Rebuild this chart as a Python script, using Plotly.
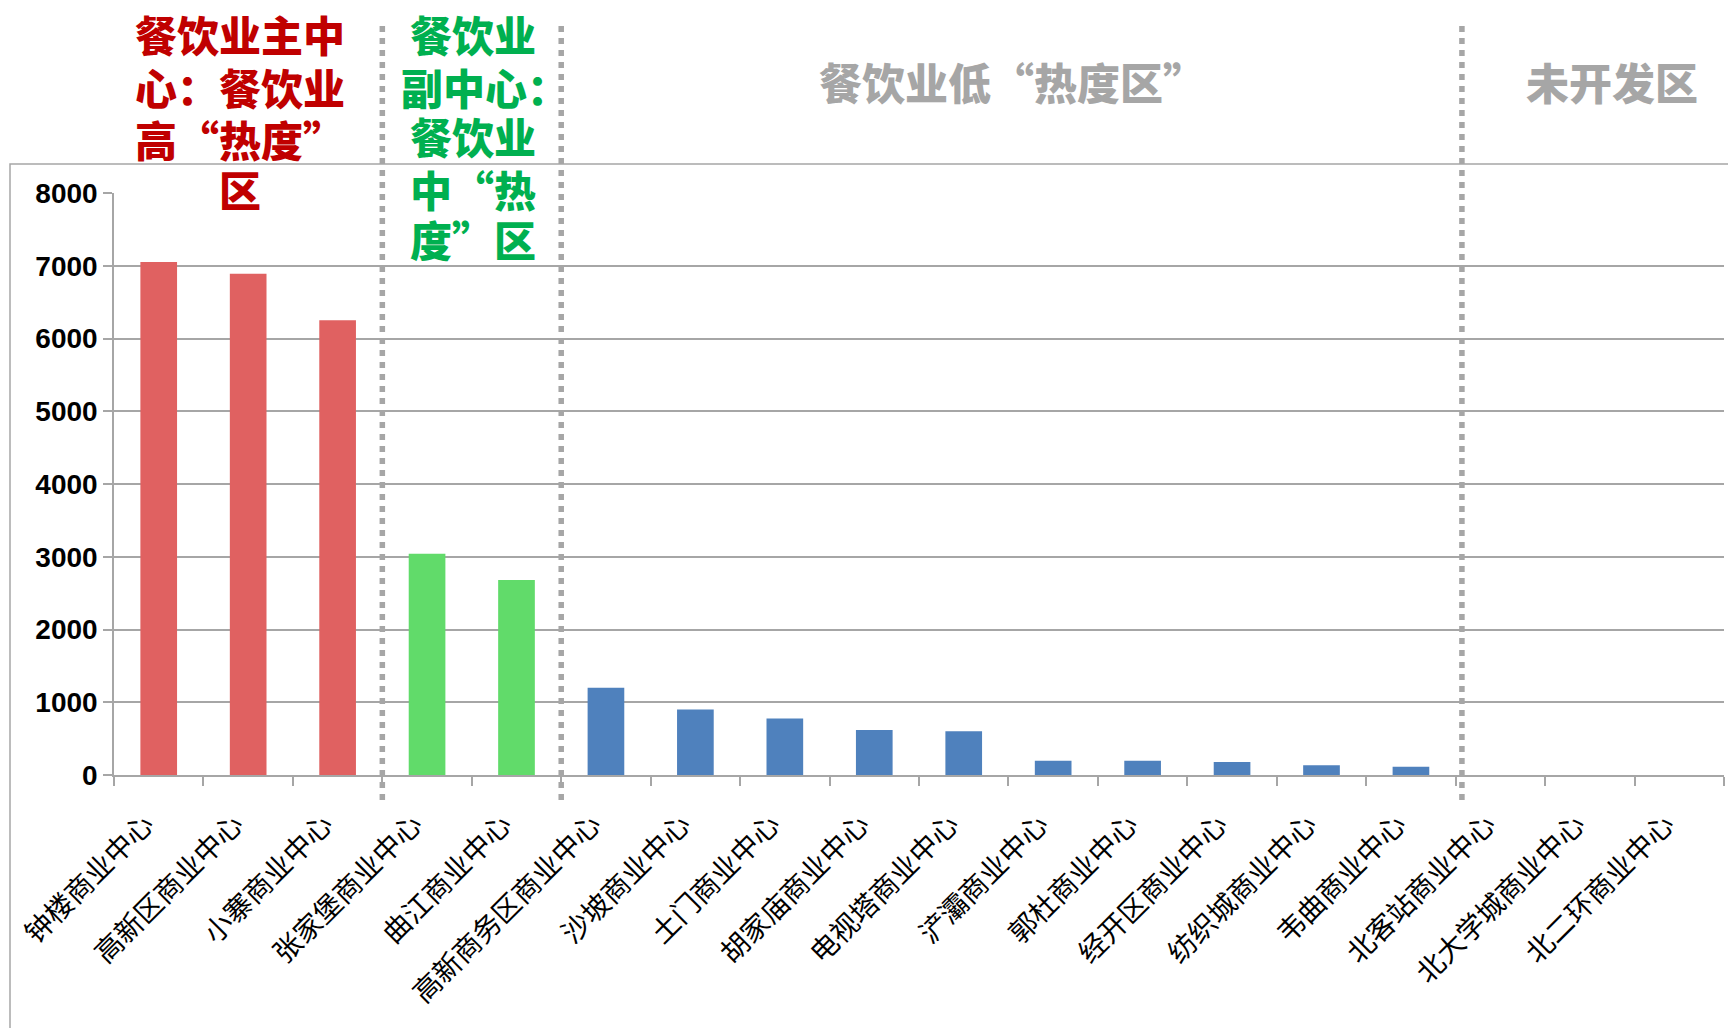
import plotly.graph_objects as go

categories = ["钟楼商业中心", "高新区商业中心", "小寨商业中心", "张家堡商业中心", "曲江商业中心",
              "高新商务区商业中心", "沙坡商业中心", "土门商业中心", "胡家庙商业中心", "电视塔商业中心",
              "浐灞商业中心", "郭杜商业中心", "经开区商业中心", "纺织城商业中心", "韦曲商业中心",
              "北客站商业中心", "北大学城商业中心", "北二环商业中心"]
values = [7050, 6890, 6250, 3040, 2680, 1200, 900, 775, 620, 600, 195, 195, 180, 135, 115, 0, 0, 0]
groups = ["high"] * 3 + ["mid"] * 2 + ["low"] * 10 + ["none"] * 3
group_colors = {"high": "#E06161", "mid": "#61DB6A", "low": "#4F81BD", "none": "#4F81BD"}
y_ticks = [0, 1000, 2000, 3000, 4000, 5000, 6000, 7000, 8000]

red_lines = ["餐饮业主中", "心：餐饮业", "高“热度”", "区"]
green_lines = ["餐饮业", "副中心：", "餐饮业", "中“热", "度”区"]
gray_labels = ["餐饮业低“热度区”", "未开发区"]

# page geometry (page has 8px body margin)
OFF = 8
W, H = 1736 - OFF, 1028 - OFF
PL, PR, PT, PB = 114, 1724, 193, 775  # plot box in page pixels
L, R, T, B = PL - OFF, W - (PR - OFF), PT - OFF, H - (PB - OFF)


def py(p):
    return (PB - p) / (PB - PT)


def px(p):
    return (p - PL) / (PR - PL)


fig = go.Figure()
fig.add_trace(go.Bar(
    x=categories, y=values,
    marker=dict(color=[group_colors[g] for g in groups], line=dict(width=0)),
    width=0.41,
))

grid_c = "#A6A6A6"
shapes = []
shapes.append(dict(type="path", xref="paper", yref="paper",
                   path=f"M {px(10)} {py(1040)} L {px(10)} {py(164)} L {px(1750)} {py(164)}",
                   line=dict(color="#A6A6A6", width=1.5)))
for xb in [2.5, 4.5, 14.57]:
    shapes.append(dict(type="line", xref="x", yref="paper", x0=xb, x1=xb,
                       y0=py(800), y1=py(26),
                       line=dict(color="#A6A6A6", width=5.5, dash="6px,6px")))

cjk = "Noto Sans CJK SC"
annotations = []
for txt, yc in zip(red_lines, [33, 86, 138, 188]):
    annotations.append(dict(text=txt, x=px(240), y=py(yc), xref="paper", yref="paper",
                            xanchor="center", yanchor="middle", showarrow=False, height=50,
                            font=dict(family=cjk, size=42, color="#C00000", weight=900)))
for i, (txt, yc) in enumerate(zip(green_lines, [33, 86, 135, 188, 238])):
    xc = 485 if i == 1 else 473
    annotations.append(dict(text=txt, x=px(xc), y=py(yc), xref="paper", yref="paper",
                            xanchor="center", yanchor="middle", showarrow=False, height=50,
                            font=dict(family=cjk, size=42, color="#00B050", weight=900)))
for txt, xc, fs in zip(gray_labels, [1012, 1612], [43, 43]):
    annotations.append(dict(text=txt, x=px(xc), y=py(81), xref="paper", yref="paper",
                            xanchor="center", yanchor="middle", showarrow=False,
                            font=dict(family=cjk, size=fs, color="#A6A6A6", weight=900)))

fig.update_layout(
    width=W, height=H,
    margin=dict(l=L, r=R, t=T, b=B, autoexpand=False),
    paper_bgcolor="white", plot_bgcolor="white",
    showlegend=False,
    shapes=shapes, annotations=annotations,
    xaxis=dict(type="category", tickson="boundaries", ticks="outside", ticklen=9, tickcolor=grid_c,
               tickwidth=1.5, showgrid=False, showline=True, linecolor=grid_c, linewidth=1.5,
               tickangle=-45, tickfont=dict(family=cjk, size=28, color="black"),
               ticklabelstandoff=20, ticklabelshift=-13,
               range=[-0.5, len(categories) - 0.5]),
    yaxis=dict(range=[0, 8000], tickvals=y_ticks, ticktext=[str(v) for v in y_ticks],
               showgrid=True, gridcolor=grid_c, gridwidth=1.5, showline=True, linecolor=grid_c,
               linewidth=1.5, ticks="outside", ticklen=9, tickcolor=grid_c, tickwidth=1.5,
               zeroline=False,
               tickfont=dict(family="Liberation Sans", size=28, color="black", weight="bold")),
)

fig.write_html("out.html")
